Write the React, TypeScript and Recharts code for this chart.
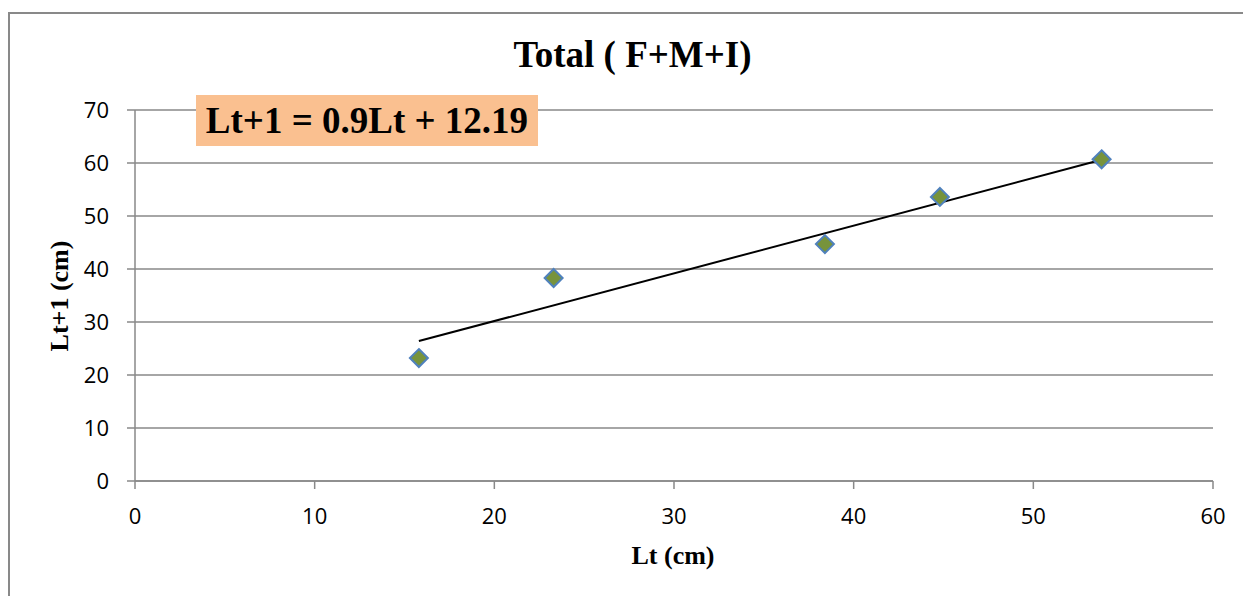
import React from 'react';
import { ComposedChart, Scatter, XAxis, YAxis, CartesianGrid } from 'recharts';

const ltValues = [15.8, 23.3, 38.4, 44.8, 53.8];
const ltNextValues = [23.2, 38.3, 44.7, 53.6, 60.7];
const trendX = [15.8, 53.8];
const trendY = [26.4, 60.6];
const xTicks = [0, 10, 20, 30, 40, 50, 60];
const yTicks = [0, 10, 20, 30, 40, 50, 60, 70];

const points = ltValues.map((x, i) => ({ x, y: ltNextValues[i] }));
const trend = trendX.map((x, i) => ({ x, y: trendY[i] }));

const GRAY = '#898989';

const Diamond = (props: any) => {
  const { cx, cy } = props;
  if (cx == null || cy == null) return null;
  const r = 9;
  return (
    <polygon
      points={`${cx},${cy - r} ${cx + r},${cy} ${cx},${cy + r} ${cx - r},${cy}`}
      fill="#77933C"
      stroke="#4F81BD"
      strokeWidth={2}
    />
  );
};

const NoShape = () => <g />;

export default function App() {
  const tickStyle = { fill: '#000', fontSize: 22, fontFamily: '"Open Sans", sans-serif' };
  return (
    <div style={{ position: 'absolute', left: 0, top: 0, width: 1243, height: 596, overflow: 'hidden', background: '#fff' }}>
      <div
        style={{
          position: 'absolute',
          left: 8,
          top: 12,
          width: 1400,
          height: 800,
          borderLeft: `2px solid ${GRAY}`,
          borderTop: `2px solid ${GRAY}`,
        }}
      />
      <div style={{ position: 'absolute', left: 0, top: 0 }}>
        <ComposedChart width={1243} height={596} margin={{ top: 110, right: 30, left: 0, bottom: 0 }}>
          <CartesianGrid horizontal vertical={false} stroke={GRAY} strokeWidth={1.5} />
          <XAxis
            type="number"
            dataKey="x"
            domain={[0, 60]}
            ticks={xTicks}
            interval={0}
            height={115}
            tickSize={8}
            tickMargin={19}
            stroke={GRAY}
            strokeWidth={1.5}
            tick={tickStyle}
            allowDataOverflow
          />
          <YAxis
            type="number"
            dataKey="y"
            domain={[0, 70]}
            ticks={yTicks}
            interval={0}
            width={135}
            tickSize={8}
            tickMargin={18}
            stroke={GRAY}
            strokeWidth={1.5}
            tick={tickStyle}
            allowDataOverflow
          />
          <Scatter
            data={trend}
            line={{ stroke: '#000', strokeWidth: 2 }}
            shape={<NoShape />}
            isAnimationActive={false}
          />
          <Scatter data={points} shape={<Diamond />} isAnimationActive={false} />
        </ComposedChart>
      </div>
      <div
        style={{
          position: 'absolute',
          left: 0,
          width: 1265,
          top: 34,
          textAlign: 'center',
          fontFamily: '"Liberation Serif", "Times New Roman", serif',
          fontWeight: 'bold',
          fontSize: 37,
          lineHeight: '42px',
          color: '#000',
        }}
      >
        Total ( F+M+I)
      </div>
      <div
        style={{
          position: 'absolute',
          left: 196,
          top: 95,
          width: 342,
          height: 51,
          background: '#FAC090',
          fontFamily: '"Liberation Serif", "Times New Roman", serif',
          fontWeight: 'bold',
          fontSize: 37,
          lineHeight: '51px',
          textAlign: 'center',
          color: '#000',
          whiteSpace: 'nowrap',
        }}
      >
        Lt+1 = 0.9Lt + 12.19
      </div>
      <div
        style={{
          position: 'absolute',
          left: 573,
          width: 200,
          top: 541,
          textAlign: 'center',
          fontFamily: '"Liberation Serif", "Times New Roman", serif',
          fontWeight: 'bold',
          fontSize: 26,
          lineHeight: '30px',
          color: '#000',
        }}
      >
        Lt (cm)
      </div>
      <div
        style={{
          position: 'absolute',
          left: 60 - 100,
          width: 200,
          top: 296 - 15,
          textAlign: 'center',
          fontFamily: '"Liberation Serif", "Times New Roman", serif',
          fontWeight: 'bold',
          fontSize: 26,
          lineHeight: '30px',
          color: '#000',
          transform: 'rotate(-90deg)',
          whiteSpace: 'nowrap',
        }}
      >
        Lt+1 (cm)
      </div>
    </div>
  );
}
